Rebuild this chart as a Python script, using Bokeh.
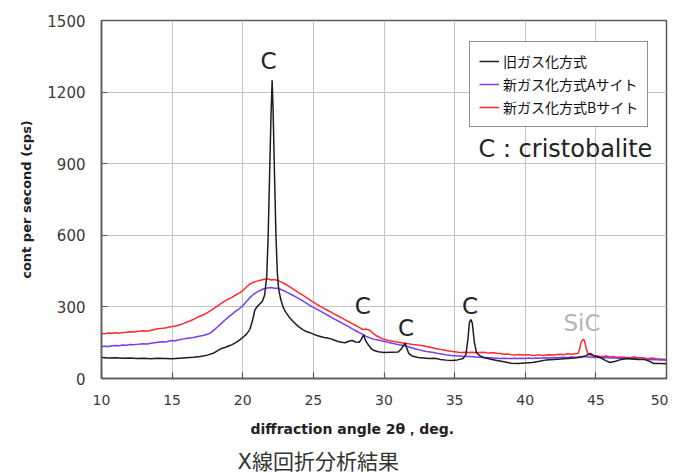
import numpy as np
from bokeh.plotting import figure
from bokeh.models import Range1d, FixedTicker, Label, Legend, LegendItem, Title
from bokeh.embed import file_html
from bokeh.resources import INLINE

# ---------------- data ----------------
x_ticks = [10, 15, 20, 25, 30, 35, 40, 45, 50]
y_ticks = [0, 300, 600, 900, 1200, 1500]

series_names = ["旧ガス化方式", "新ガス化方式Aサイト", "新ガス化方式Bサイト"]

# common sampling grid for the two new-process sites (every 0.25 deg)
grid_angle = np.round(np.arange(10.0, 50.001, 0.25), 2)

site_b_cps = [
    189, 188, 191, 190, 192, 190, 193, 194,   # 10
    196, 195, 197, 199, 200, 198, 202, 205,   # 12
    208, 210, 212, 215, 218, 220, 224, 229,   # 14
    236, 241, 247, 255, 262, 268, 276, 285,   # 16
    295, 305, 316, 325, 333, 340, 350, 358,   # 18
    368, 382, 396, 403, 408, 412, 416, 418,   # 20
    413, 415, 410, 404, 396, 387, 378, 368,   # 22
    358, 349, 339, 329, 320, 311, 302, 294,   # 24
    286, 278, 270, 262, 254, 246, 238, 230,   # 26
    222, 214, 205, 207, 202, 188, 178, 170,   # 28
    165, 160, 157, 155, 152, 150, 148, 146,   # 30
    143, 141, 139, 137, 134, 131, 128, 125,   # 32
    122, 119, 116, 114, 112, 110, 109, 110,   # 34
    109, 110, 108, 109, 110, 108, 107, 108,   # 36
    106, 105, 102, 103, 100, 98, 101, 100,    # 38
    98, 100, 96, 97, 99, 96, 98, 100,         # 40
    98, 101, 102, 100, 104, 102, 104, 106,    # 42
    150, 150, 100, 96, 95, 93, 92, 94,        # 44
    90, 92, 88, 90, 89, 87, 88, 90,           # 46
    86, 88, 85, 84, 86, 83, 82, 81,           # 48
    80,                                       # 50
]

# SiC peak of site B, sampled finer
sic_angle = [43.85, 43.95, 44.05, 44.15, 44.25, 44.35, 44.45]
sic_cps = [125, 150, 162, 163, 145, 118, 102]

site_a_cps = [
    134, 135, 134, 137, 138, 137, 140, 139,   # 10
    142, 141, 143, 145, 146, 145, 148, 150,   # 12
    152, 154, 153, 156, 159, 158, 162, 165,   # 14
    168, 170, 172, 175, 178, 181, 185, 192,   # 16
    205, 218, 232, 245, 258, 270, 282, 292,   # 18
    305, 322, 338, 352, 362, 370, 376, 379,   # 20
    381, 378, 378, 372, 365, 358, 350, 342,   # 22
    334, 325, 316, 306, 298, 290, 282, 274,   # 24
    266, 257, 249, 241, 233, 225, 217, 208,   # 26
    200, 192, 185, 176, 170, 165, 162, 159,   # 28
    156, 152, 149, 146, 142, 139, 136, 132,   # 30
    128, 124, 120, 116, 113, 111, 109, 106,   # 32
    104, 101, 98, 96, 95, 94, 93, 92,         # 34
    92, 91, 90, 89, 88, 88, 87, 86,           # 36
    85, 84, 85, 84, 84, 85, 84, 85,           # 38
    84, 86, 84, 86, 85, 86, 87, 86,           # 40
    88, 87, 88, 89, 88, 90, 89, 90,           # 42
    92, 91, 90, 89, 88, 89, 87, 88,           # 44
    86, 87, 85, 86, 84, 85, 83, 84,           # 46
    82, 81, 82, 80, 79, 80, 78, 77,           # 48
    76,                                       # 50
]

old_angle = [
    10, 10.5, 11, 11.5, 12, 12.5, 13, 13.5, 14, 14.5, 15, 15.5, 16, 16.5, 17, 17.5,
    18, 18.25, 18.5, 18.75, 19, 19.25, 19.5, 19.75, 20, 20.25, 20.5,
    20.7, 20.85, 21.0, 21.2, 21.4, 21.55, 21.7, 21.8, 21.9, 22.0, 22.08, 22.15,
    22.25, 22.35, 22.45, 22.55, 22.7, 22.85,
    23.0, 23.25, 23.5, 23.75, 24.0, 24.25, 24.5, 24.75, 25.0, 25.25, 25.5, 25.75,
    26.0, 26.25, 26.5, 26.75, 27.0, 27.25, 27.5, 27.75, 28.0, 28.25,
    28.4, 28.55, 28.7, 28.9, 29.1, 29.3, 29.6, 30.0, 30.5, 31.0, 31.2, 31.35,
    31.5, 31.6, 31.75, 32.0,
    32.4, 32.8, 33.2, 33.6, 34.0, 34.4, 34.8, 35.2, 35.6, 35.8,
    35.95, 36.05, 36.15, 36.25, 36.4, 36.55, 36.8, 37.05, 37.5,
    38.0, 38.5, 39.0, 39.5, 40.0, 40.5, 41.0, 41.5, 42.0, 42.5, 43.0, 43.5, 44.0,
    44.3, 44.6, 44.9, 45.3, 45.7, 46.0, 46.4, 46.8, 47.2, 47.6, 48.0, 48.4,
    48.8, 49.1, 49.5, 50.0,
]
old_cps = [
    88, 86, 87, 85, 86, 84, 85, 83, 85, 84, 83, 85, 87, 89, 92, 98,
    108, 118, 126, 130, 136, 142, 150, 160, 172, 185, 205,
    245, 285, 300, 312, 325, 350, 430, 600, 850, 1100, 1250, 1120,
    850, 600, 440, 370, 330, 300,
    282, 260, 243, 228, 215, 205, 197, 192, 186, 180, 176, 172,
    170, 166, 160, 155, 152, 150, 156, 159, 153, 152,
    165, 182, 158, 140, 125, 117, 112, 109, 110, 111, 122, 135,
    148, 130, 105, 94,
    88, 86, 84, 85, 80, 77, 75, 78, 84, 100,
    170, 235, 247, 232, 150, 108, 95, 88, 82,
    75, 70, 64, 63, 65, 67, 72, 78, 80, 82, 84, 86, 90,
    96, 105, 94, 88, 75, 67, 72, 80, 84, 82, 80, 80,
    72, 63, 63, 62,
]

peak_label_x = [21.82, 28.5, 31.56, 36.09]
peak_label_y = [1332, 302, 212, 302]
peak_label_text = ["C", "C", "C", "C"]

sic_label = ("SiC", 44.02, 233)
note_label = ("C : cristobalite", 36.69, 960)

x_title = "diffraction angle 2θ，deg."
y_title = "cont per second (cps)"
caption = "X線回折分析結果"

# ------------- build site B with its fine SiC peak -------------
b_x = list(grid_angle)
b_y = list(site_b_cps)
keep = [(a, c) for a, c in zip(b_x, b_y) if not (43.8 < a < 44.5)]
merged = sorted(keep + list(zip(sic_angle, sic_cps)))
b_x = [m[0] for m in merged]
b_y = [m[1] for m in merged]

# ---------------- figure ----------------
FRAME = "#5a5a5a"
p = figure(width=668, height=473, x_range=Range1d(10, 50), y_range=Range1d(0, 1500),
           output_backend="svg", toolbar_location=None,
           min_border_left=101, min_border_right=2, min_border_top=20, min_border_bottom=95)
p.background_fill_color = "white"
p.border_fill_color = "white"
p.outline_line_color = FRAME
p.outline_line_width = 1.5

p.xaxis.ticker = FixedTicker(ticks=x_ticks)
p.yaxis.ticker = FixedTicker(ticks=y_ticks)
for ax in (p.xaxis, p.yaxis):
    ax.axis_line_color = FRAME
    ax.axis_line_width = 1.5
    ax.major_tick_in = 6
    ax.major_tick_out = 0
    ax.major_tick_line_color = FRAME
    ax.major_tick_line_width = 1.2
    ax.minor_tick_line_color = None
    ax.major_label_text_font = "DejaVu Sans"
    ax.major_label_text_color = "#3a3a3a"
p.xaxis.major_label_text_font_size = "14px"
p.yaxis.major_label_text_font_size = "15px"
p.xaxis.major_label_standoff = 16
p.yaxis.major_label_standoff = 16

p.yaxis.axis_label = y_title
p.yaxis.axis_label_text_font = "DejaVu Sans"
p.yaxis.axis_label_text_font_size = "13px"
p.yaxis.axis_label_text_font_style = "bold"
p.yaxis.axis_label_text_color = "#222222"
p.yaxis.axis_label_standoff = 10

p.xgrid.grid_line_color = "#c4c4c4"
p.ygrid.grid_line_color = "#c4c4c4"
p.xgrid.grid_line_width = 1
p.ygrid.grid_line_width = 1

r_b = p.line(b_x, b_y, line_color="#ff2a2a", line_width=1.5)
r_a = p.line(list(grid_angle), site_a_cps, line_color="#7a3cf5", line_width=1.5)
r_old = p.line(old_angle, old_cps, line_color="#1e1e1e", line_width=1.5)

legend = Legend(items=[LegendItem(label=series_names[0], renderers=[r_old]),
                       LegendItem(label=series_names[1], renderers=[r_a]),
                       LegendItem(label=series_names[2], renderers=[r_b])],
                location=(368, 251))
legend.label_text_font = "Noto Sans CJK JP"
legend.label_text_font_size = "14px"
legend.label_text_color = "#111111"
legend.label_height = 20
legend.glyph_height = 20
legend.glyph_width = 20
legend.label_standoff = 4
legend.spacing = 3
legend.padding = 9
legend.margin = 0
legend.border_line_color = "#222222"
legend.border_line_width = 1.5
legend.background_fill_color = "white"
legend.background_fill_alpha = 1.0
p.add_layout(legend, "center")

for tx, ty, tt in zip(peak_label_x, peak_label_y, peak_label_text):
    p.add_layout(Label(x=tx, y=ty, text=tt, text_align="center", text_baseline="middle",
                       text_font="DejaVu Sans", text_font_size="23px", text_color="#222222"))

p.add_layout(Label(x=sic_label[1], y=sic_label[2], text=sic_label[0], text_align="center",
                   text_baseline="middle", text_font="DejaVu Sans", text_font_size="23px",
                   text_color="#b4b4b4"))
p.add_layout(Label(x=note_label[1], y=note_label[2], text=note_label[0], text_align="left",
                   text_baseline="middle", text_font="DejaVu Sans", text_font_size="24px",
                   text_color="#222222"))

p.add_layout(Title(text=x_title, align="left", offset=149, standoff=22,
                   text_font="DejaVu Sans", text_font_size="14px", text_font_style="bold",
                   text_color="#222222"), "below")
p.add_layout(Title(text=caption, align="left", offset=136, standoff=0,
                   text_font="DejaVu Sans, Noto Sans CJK JP", text_font_size="21px",
                   text_font_style="normal", text_color="#333333"), "below")

open("out.html", "w").write(file_html(p, INLINE))
